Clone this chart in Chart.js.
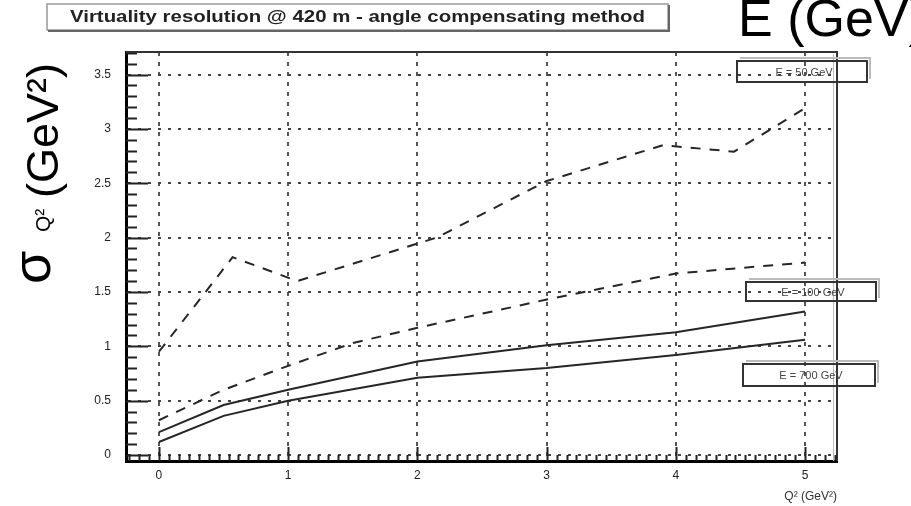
<!DOCTYPE html>
<html>
<head>
<meta charset="utf-8">
<title>Virtuality resolution</title>
<script src="https://cdn.jsdelivr.net/npm/chart.js@4.4.1/dist/chart.umd.min.js"></script>
<style>
  html, body { margin: 0; padding: 0; background: #fff; }
  #wrap { width: 911px; height: 506px; }
</style>
</head>
<body>
<div id="wrap"><canvas id="resChart" width="911" height="506"></canvas></div>
<script>
// values (Q^2 and sigma both in GeV^2)
const upperDashQ2 = [0, 0.57, 1.07, 2.15, 3.0, 3.9, 4.45, 5.0];
const upperDashSigma = [0.95, 1.82, 1.6, 2.0, 2.52, 2.85, 2.79, 3.19];
const lowerDashQ2 = [0, 0.5, 1, 1.5, 2, 3, 4, 5];
const lowerDashSigma = [0.32, 0.6, 0.82, 1.03, 1.17, 1.43, 1.67, 1.77];
const solidQ2 = [0, 0.5, 1, 2, 3, 4, 5];
const upperSolidSigma = [0.21, 0.46, 0.6, 0.86, 1.01, 1.13, 1.32];
const lowerSolidSigma = [0.12, 0.36, 0.5, 0.71, 0.8, 0.92, 1.06];

const xTicks = [0, 1, 2, 3, 4, 5];
const yTicks = [0, 0.5, 1, 1.5, 2, 2.5, 3, 3.5];
const legendLabels = ['E = 50 GeV', 'E = 100 GeV', 'E = 700 GeV'];
const chartTitle = 'Virtuality resolution @ 420 m - angle compensating method';

const FONT = '"Liberation Sans", Arial, sans-serif';
const LINE = '#262626';

function toPoints(xs, ys) {
    return xs.map((x, i) => ({ x: x, y: ys[i] }));
}

function lineSet(xs, ys, dashed) {
    return {
        data: toPoints(xs, ys),
        borderColor: LINE,
        borderWidth: 2,
        borderDash: dashed ? [10, 9] : [],
        pointRadius: 0,
        tension: 0,
        fill: false
    };
}

// ROOT-style extras: frame, inner ticks, pave boxes, big axis title
const rootDecor = {
    id: 'rootDecor',
    beforeDraw(chart) {
        const ctx = chart.ctx;
        ctx.save();
        ctx.fillStyle = '#fff';
        ctx.fillRect(0, 0, chart.width, chart.height);
        ctx.restore();
    },
    afterDraw(chart) {
        const { ctx, chartArea: a, scales: { x, y } } = chart;
        ctx.save();

        // top + right of the frame
        ctx.strokeStyle = '#333';
        ctx.lineWidth = 2;
        ctx.beginPath();
        ctx.moveTo(a.left, a.top);
        ctx.lineTo(a.right, a.top);
        ctx.lineTo(a.right, a.bottom);
        ctx.stroke();
        ctx.strokeStyle = '#bbb';
        ctx.lineWidth = 1;
        ctx.beginPath();
        ctx.moveTo(a.right - 3.5, a.top + 2);
        ctx.lineTo(a.right - 3.5, a.bottom);
        ctx.stroke();

        // inner tick marks
        ctx.strokeStyle = '#222';
        ctx.lineWidth = 2;
        ctx.beginPath();
        const yStep = 0.1;
        for (let i = Math.ceil(y.min / yStep); i * yStep <= y.max; i++) {
            const major = i % 5 === 0;
            const py = Math.round(y.getPixelForValue(i * yStep)) + 0.5;
            ctx.moveTo(a.left, py);
            ctx.lineTo(a.left + (major ? 22 : 11), py);
        }
        const xStep = 1 / 13;
        for (let i = Math.ceil(x.min / xStep); i * xStep <= x.max; i++) {
            const major = i % 13 === 0;
            const px = Math.round(x.getPixelForValue(i * xStep)) + 0.5;
            ctx.moveTo(px, a.bottom);
            ctx.lineTo(px, a.bottom - (major ? 14 : 6));
        }
        ctx.stroke();

        // legend paves (no fill, lines show through)
        const boxes = [
            { x: 737, y: 61, w: 130, h: 21 },
            { x: 746, y: 282, w: 130, h: 19 },
            { x: 743, y: 364, w: 132, h: 22 }
        ];
        ctx.font = '11px ' + FONT;
        ctx.textAlign = 'center';
        ctx.textBaseline = 'middle';
        boxes.forEach((b, i) => {
            ctx.strokeStyle = '#bbb';
            ctx.lineWidth = 2;
            ctx.beginPath();
            ctx.moveTo(b.x + 3, b.y - 3);
            ctx.lineTo(b.x + b.w + 3, b.y - 3);
            ctx.lineTo(b.x + b.w + 3, b.y + b.h - 3);
            ctx.stroke();
            ctx.strokeStyle = '#333';
            ctx.strokeRect(b.x, b.y, b.w, b.h);
            ctx.fillStyle = '#444';
            ctx.fillText(legendLabels[i], b.x + b.w / 2 + 2, b.y + b.h / 2 + 1);
        });

        // title pave
        ctx.fillStyle = '#fff';
        ctx.fillRect(47, 4, 621, 26);
        ctx.strokeStyle = '#999';
        ctx.lineWidth = 1.5;
        ctx.strokeRect(47, 4, 621, 26);
        ctx.strokeStyle = '#666';
        ctx.lineWidth = 2;
        ctx.beginPath();
        ctx.moveTo(48, 31);
        ctx.lineTo(669, 31);
        ctx.lineTo(669, 5);
        ctx.stroke();
        ctx.font = 'bold 16px "Liberation Sans Narrow", ' + FONT;
        ctx.fillStyle = '#222';
        ctx.textAlign = 'left';
        ctx.textBaseline = 'middle';
        const tw = ctx.measureText(chartTitle).width;
        ctx.save();
        ctx.translate(70, 18);
        ctx.scale(575 / tw, 1);
        ctx.fillText(chartTitle, 0, 0);
        ctx.restore();

        // big y title: sigma_Q2 (GeV2), rotated
        ctx.fillStyle = '#000';
        ctx.textAlign = 'left';
        ctx.textBaseline = 'alphabetic';
        ctx.save();
        ctx.translate(50, 284);
        ctx.rotate(-Math.PI / 2);
        ctx.font = '54px ' + FONT;
        ctx.fillText('σ', 0, 0);
        ctx.font = '21px ' + FONT;
        ctx.fillText('Q²', 52, 0);
        ctx.font = '45px ' + FONT;
        ctx.fillText('(GeV²)', 86, 8);
        ctx.restore();

        // leftover axis title from the neighbouring plot, top right (clipped by the page edge)
        ctx.font = '52px ' + FONT;
        ctx.fillText('E (GeV)', 738, 36);

        ctx.restore();
    }
};

new Chart(document.getElementById('resChart'), {
    type: 'line',
    data: {
        datasets: [
            lineSet(upperDashQ2, upperDashSigma, true),
            lineSet(lowerDashQ2, lowerDashSigma, true),
            lineSet(solidQ2, upperSolidSigma, false),
            lineSet(solidQ2, lowerSolidSigma, false)
        ]
    },
    options: {
        responsive: false,
        animation: false,
        devicePixelRatio: 1,
        layout: { padding: { left: 0, top: 52, right: 74, bottom: 0 } },
        plugins: {
            legend: { display: false },
            tooltip: { enabled: false },
            title: { display: false }
        },
        scales: {
            x: {
                type: 'linear',
                min: -0.255,
                max: 5.247,
                afterBuildTicks: (s) => { s.ticks = xTicks.map(v => ({ value: v })); },
                afterFit: (s) => { s.height = 45; },
                grid: { color: '#555', lineWidth: 2, drawTicks: false },
                border: { display: true, color: '#000', width: 3, dash: [4, 6] },
                ticks: {
                    padding: 7,
                    color: '#222',
                    font: { family: FONT, size: 12 },
                    callback: (v) => String(v)
                },
                title: {
                    display: true,
                    text: 'Q² (GeV²)',
                    align: 'end',
                    color: '#333',
                    font: { family: FONT, size: 12 },
                    padding: { top: 0, bottom: 2 }
                }
            },
            y: {
                type: 'linear',
                min: -0.055,
                max: 3.707,
                afterBuildTicks: (s) => { s.ticks = yTicks.map(v => ({ value: v })); },
                afterFit: (s) => { s.width = 126; },
                grid: { color: '#444', lineWidth: 2, drawTicks: false },
                border: { display: true, color: '#000', width: 3, dash: [3, 7] },
                ticks: {
                    padding: 15,
                    color: '#222',
                    font: { family: FONT, size: 12 },
                    callback: (v) => String(v)
                }
            }
        }
    },
    plugins: [rootDecor]
});
</script>
</body>
</html>
